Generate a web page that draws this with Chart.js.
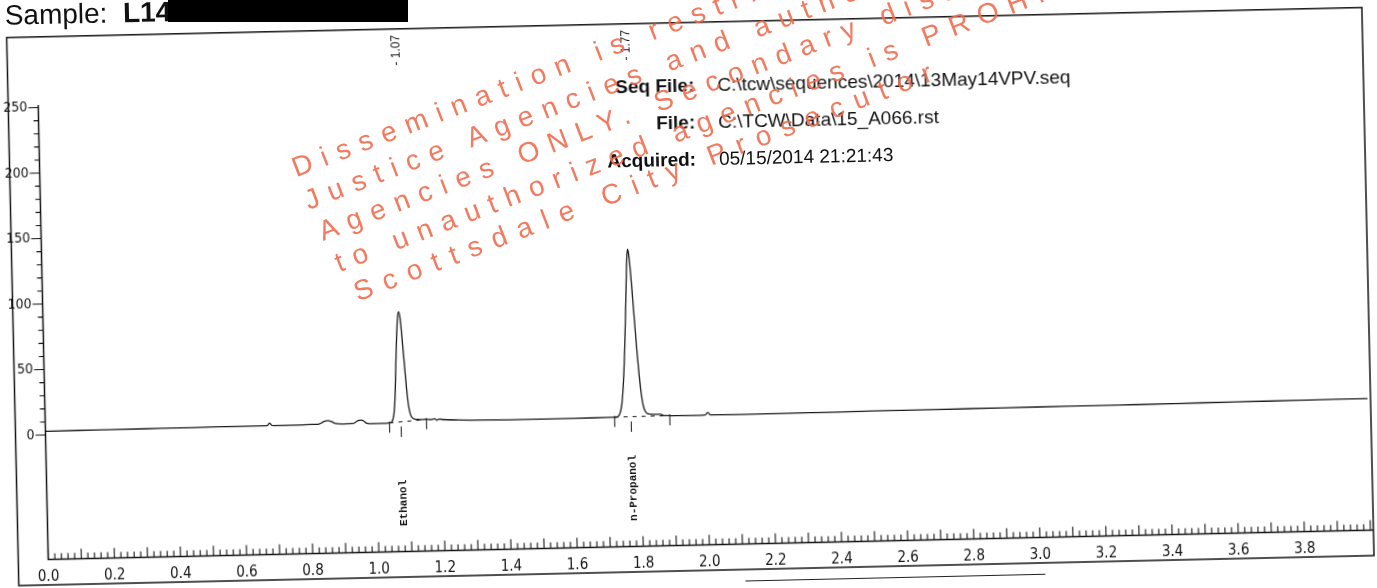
<!DOCTYPE html>
<html>
<head>
<meta charset="utf-8">
<title>Chromatogram 15_A066</title>
<script src="https://cdn.jsdelivr.net/npm/chart.js@4.4.1/dist/chart.umd.min.js"></script>
<style>
  html, body { margin: 0; padding: 0; background: #fff; }
  body { width: 1377px; height: 588px; overflow: hidden; position: relative; }
  #page {
    position: absolute; left: 0; top: 0; width: 1377px; height: 620px;
    transform-origin: 45px 435px; transform: rotate(-1.27deg);
    font-family: "Liberation Sans", Arial, sans-serif; color: #111;
  }
  #page canvas { position: absolute; left: 0; top: 0; }
  .hdr { position: absolute; font-size: 28px; line-height: 32px; white-space: nowrap; }
  .meta { position: absolute; font-size: 19px; line-height: 22px; white-space: nowrap; }
  .meta.lbl { font-weight: bold; text-align: right; width: 120px; }
  .edge { position: absolute; border-top: 1.5px solid #222; height: 0; }
  #redact { position: absolute; left: 168px; top: 0; width: 240px; height: 22px; background: #000; }
  #stamp {
    position: absolute; left: 287px; top: 153px; transform-origin: 0 0; transform: rotate(-21deg);
    font-family: "Liberation Sans", Arial, sans-serif; font-size: 28px; line-height: 34.5px;
    letter-spacing: 10px; color: rgba(240, 108, 78, 0.9); pointer-events: none;
  }
  #stamp div { height: 34.5px; white-space: nowrap; }
</style>
</head>
<body>
<div id="page">
  <canvas id="chrom" width="1377" height="600"></canvas>
  <div class="hdr" style="left:14px; top:-1px;">Sample:&nbsp; <b>L14</b></div>
  <div class="meta lbl" style="left:582px; top:89px;">Seq File:</div>
  <div class="meta" style="left:725px; top:89px;">C:\tcw\sequences\2014\13May14VPV.seq</div>
  <div class="meta lbl" style="left:582px; top:126px;">File:</div>
  <div class="meta" style="left:725px; top:126px;">C:\TCW\Data\15_A066.rst</div>
  <div class="meta lbl" style="left:582px; top:163px;">Acquired:</div>
  <div class="meta" style="left:725px; top:163px;">05/15/2014 21:21:43</div>
  <div class="edge" style="left:742px; top:596px; width:300px;"></div>
</div>
<div id="redact"></div>
<div id="stamp">
  <div>Dissemination is restricted to</div>
  <div>Justice Agencies and authorized</div>
  <div style="padding-left:2px;">Agencies ONLY. Secondary dissemination</div>
  <div style="padding-left:6px;">to unauthorized agencies is PROHIBITED</div>
  <div style="padding-left:13px; letter-spacing:11.5px;">Scottsdale City Prosecutor</div>
</div>
<script>
// Detector trace (retention time in minutes, response)
const timeMin = [
  0.00, 0.10, 0.20, 0.30, 0.40, 0.50, 0.60, 0.665, 0.672, 0.678, 0.684, 0.690,
  0.75, 0.80, 0.825, 0.835, 0.845, 0.855, 0.865, 0.878, 0.900, 0.930, 0.940,
  0.948, 0.956, 0.964, 0.972, 0.990, 1.020, 1.040, 1.048,
  1.052, 1.056, 1.060, 1.064, 1.068, 1.072, 1.076, 1.080, 1.084, 1.088, 1.092,
  1.096, 1.100, 1.105, 1.111, 1.118, 1.128, 1.138, 1.150, 1.165, 1.178, 1.184,
  1.192, 1.205, 1.25, 1.30, 1.40, 1.50, 1.60, 1.70, 1.725,
  1.733, 1.739, 1.745, 1.751, 1.757, 1.762, 1.766, 1.769, 1.772, 1.775, 1.779,
  1.784, 1.789, 1.794, 1.799, 1.804, 1.809, 1.815, 1.822, 1.835, 1.850, 1.862,
  1.868, 1.880, 1.92, 1.98, 1.996, 2.004, 2.012, 2.10, 2.30, 2.50, 2.70, 2.90,
  3.10, 3.30, 3.50, 3.70, 3.90, 4.00
];
const signal = [
  2.8, 2.9, 3.0, 3.1, 3.2, 3.3, 3.4, 3.4, 3.6, 5.3, 3.7, 3.4,
  3.4, 3.5, 3.6, 4.6, 5.8, 6.2, 5.4, 3.9, 3.4, 3.5, 4.8,
  5.8, 6.0, 5.2, 3.6, 3.2, 3.2, 3.4, 4.2,
  6.5, 12, 25, 48, 68, 83, 88, 83, 70, 55, 40,
  26, 16, 9.5, 6.8, 5.9, 5.6, 5.4, 5.6, 5.2, 5.8, 4.8,
  5.4, 5.0, 4.5, 4.1, 3.8, 3.8, 3.8, 3.9, 4.0,
  4.6, 7, 14, 30, 55, 82, 106, 123, 132, 129, 117,
  97, 75, 54, 36, 22, 13, 8, 6.2, 5.6, 5.4, 5.4,
  4.6, 4.3, 4.1, 4.0, 4.1, 6.0, 4.1, 4.0, 4.1, 4.3, 4.4, 4.5,
  4.7, 4.8, 5.0, 5.2, 5.4, 5.5
];
const yTickValues = [0, 50, 100, 150, 200, 250];

// Integrated peaks
const peakNames = ["Ethanol", "n-Propanol"];
const peakRT = [1.076, 1.772];
const peakRTLabels = ["1.07", "1.77"];
const peakStart = [1.041, 1.722];
const peakEnd = [1.153, 1.889];
const peakStartLevel = [3.4, 4.0];
const peakEndLevel = [5.5, 4.3];

const axisFont = '"Liberation Sans Narrow", "DejaVu Sans Condensed", "Liberation Sans", sans-serif';

// frame, inward x ticks, outward y ticks and peak marks
const chromPlugin = {
  id: "chromMarks",
  afterDraw(chart) {
    const { ctx, chartArea: a, scales: { x, y } } = chart;
    ctx.save();
    ctx.strokeStyle = "#141414";
    ctx.fillStyle = "#141414";

    ctx.lineWidth = 1.5;
    ctx.strokeRect(a.left - 30, a.top, a.right - a.left + 33, 585 - a.top);

    ctx.beginPath();
    ctx.moveTo(a.left, y.getPixelForValue(252));
    ctx.lineTo(a.left, a.bottom);
    ctx.lineTo(a.right + 3, a.bottom);
    ctx.stroke();

    ctx.lineWidth = 1.1;
    ctx.beginPath();
    for (let v = 0; v <= 250; v += 10) {
      const py = y.getPixelForValue(v);
      ctx.moveTo(a.left, py);
      ctx.lineTo(a.left - (v % 50 === 0 ? 10 : 5), py);
    }
    for (let i = 0; i <= 200; i++) {
      const px = x.getPixelForValue(i * 0.02);
      ctx.moveTo(px, a.bottom);
      ctx.lineTo(px, a.bottom - (i % 5 === 0 ? 10 : 6));
    }
    ctx.stroke();

    peakNames.forEach((name, i) => {
      const rx = x.getPixelForValue(peakRT[i]);
      ctx.lineWidth = 1;
      ctx.beginPath();
      [[peakStart[i], peakStartLevel[i]], [peakEnd[i], peakEndLevel[i]]].forEach(([t, lv]) => {
        const px = x.getPixelForValue(t);
        ctx.moveTo(px, y.getPixelForValue(lv + 1));
        ctx.lineTo(px, y.getPixelForValue(lv - 7.5));
      });
      ctx.moveTo(rx, y.getPixelForValue(0.5));
      ctx.lineTo(rx, y.getPixelForValue(-7.5));
      ctx.stroke();

      ctx.setLineDash([4, 5]);
      ctx.beginPath();
      ctx.moveTo(x.getPixelForValue(peakStart[i]), y.getPixelForValue(peakStartLevel[i]));
      ctx.lineTo(x.getPixelForValue(peakEnd[i]), y.getPixelForValue(peakEndLevel[i]));
      ctx.stroke();
      ctx.setLineDash([]);

      ctx.save();
      ctx.translate(rx + 3, y.getPixelForValue(276));
      ctx.rotate(-Math.PI / 2);
      ctx.font = '12px "Liberation Sans", sans-serif';
      ctx.textAlign = "left";
      ctx.textBaseline = "middle";
      ctx.fillText("- " + peakRTLabels[i], 0, 0);
      ctx.restore();

      ctx.save();
      ctx.translate(rx + 1, y.getPixelForValue(-75.5));
      ctx.rotate(-Math.PI / 2);
      ctx.font = 'bold 11px "Liberation Mono", monospace';
      ctx.textAlign = "left";
      ctx.textBaseline = "middle";
      ctx.fillText(name, 0, 0);
      ctx.restore();
    });
    ctx.restore();
  },
};

const ctx = document.getElementById("chrom").getContext("2d");
new Chart(ctx, {
  type: "line",
  data: {
    datasets: [
      {
        label: "FID response",
        data: timeMin.map((t, i) => ({ x: t, y: signal[i] })),
        borderColor: "#1a1a1a",
        borderWidth: 1.3,
        pointRadius: 0,
        fill: false,
        cubicInterpolationMode: "monotone",
      },
    ],
  },
  options: {
    responsive: false,
    animation: false,
    layout: { padding: { top: 36.8, right: 3.5, bottom: 0, left: 0 } },
    scales: {
      x: {
        type: "linear",
        min: 0,
        max: 4,
        afterFit: (s) => { s.height = 40.5; },
        grid: { display: false, drawTicks: false },
        border: { display: false },
        ticks: {
          stepSize: 0.2,
          padding: 9,
          autoSkip: false,
          maxRotation: 0,
          color: "#141414",
          font: { family: axisFont, size: 15 },
          callback: (v) => (v > 3.9 ? "" : v.toFixed(1)),
        },
      },
      y: {
        min: -95,
        max: 304,
        afterFit: (s) => { s.width = 45.5; },
        afterBuildTicks: (s) => { s.ticks = yTickValues.map((v) => ({ value: v })); },
        grid: { display: false, drawTicks: false },
        border: { display: false },
        ticks: {
          padding: 11,
          color: "#141414",
          font: { family: axisFont, size: 14 },
          callback: (v) => String(v),
        },
      },
    },
    plugins: {
      legend: { display: false },
      tooltip: { enabled: false },
    },
  },
  plugins: [chromPlugin],
});
</script>
</body>
</html>
